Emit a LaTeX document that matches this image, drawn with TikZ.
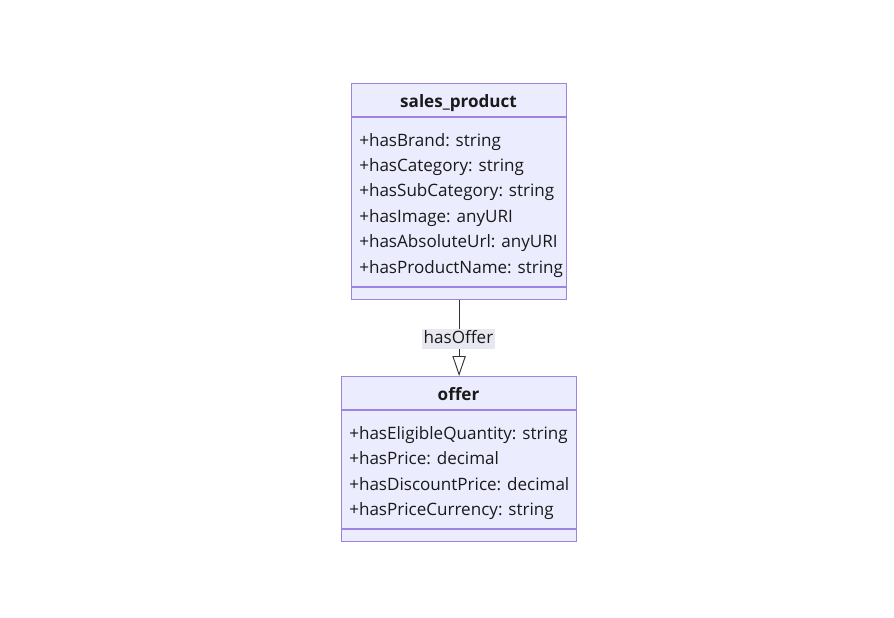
\documentclass[tikz,border=0pt]{standalone}
\usepackage{fontspec}
\setmainfont{Open Sans}
\usetikzlibrary{arrows.meta}
\definecolor{boxfill}{HTML}{ECECFF}
\definecolor{boxline}{HTML}{9F83E0}
\definecolor{edgeline}{HTML}{333333}
\definecolor{lblbg}{HTML}{E8E8F0}
\definecolor{txt}{HTML}{1A1A1A}
\tikzset{
  classbox/.style={draw=boxline, fill=boxfill, line width=0.9pt, inner sep=0pt, anchor=north west},
  sepline/.style={draw=boxline, line width=0.9pt},
  title/.style={font=\fontsize{12.8pt}{15pt}\selectfont\bfseries, text=txt, inner sep=0pt, text height=9.5pt, text depth=3pt},
  attr/.style={font=\fontsize{12.8pt}{15pt}\selectfont, text=txt, inner sep=0pt, anchor=west, text height=9.5pt, text depth=3pt},
  edgelbl/.style={fill=lblbg, font=\fontsize{12.8pt}{15pt}\selectfont, text=txt, inner sep=1.5pt, text height=9.5pt, text depth=3pt},
  rel/.style={draw=edgeline, line width=0.7pt, -{Triangle[open, width=10pt, length=15pt, fill=white]}}
}
\begin{document}
\begin{tikzpicture}[x=0.75pt,y=-0.75pt]
\useasboundingbox[fill=white] (0,0) rectangle (894,618);
% sales_product
\node[classbox, minimum width={215*0.75pt}, minimum height={216*0.75pt}] (sp) at (351,83) {};
\coordinate (sph) at (351,117);
\coordinate (sps) at (351,287);
\draw[sepline] (sph) -- (sph -| sp.east);
\draw[sepline] (sps) -- (sps -| sp.east);
\node[title] (spt) at (458.5,103) {sales\_product};
\node[attr] (sp1) at (359,142) {+hasBrand: string};
\node[attr] (sp2) at (359,167.5) {+hasCategory: string};
\node[attr] (sp3) at (359,192.5) {+hasSubCategory: string};
\node[attr] (sp4) at (359,218) {+hasImage: anyURI};
\node[attr] (sp5) at (359,243.5) {+hasAbsoluteUrl: anyURI};
\node[attr] (sp6) at (359,269) {+hasProductName: string};
% offer
\node[classbox, minimum width={235*0.75pt}, minimum height={165*0.75pt}] (of) at (341,376) {};
\coordinate (ofh) at (341,410);
\coordinate (ofs) at (341,529);
\draw[sepline] (ofh) -- (ofh -| of.east);
\draw[sepline] (ofs) -- (ofs -| of.east);
\node[title] (oft) at (458.5,396) {offer};
\node[attr] (of1) at (349,435) {+hasEligibleQuantity: string};
\node[attr] (of2) at (349,460.5) {+hasPrice: decimal};
\node[attr] (of3) at (349,486) {+hasDiscountPrice: decimal};
\node[attr] (of4) at (349,511.5) {+hasPriceCurrency: string};
% relation
\draw[rel] (sp.south) -- (of.north);
\node[edgelbl] (lbl) at (458.5,339) {hasOffer};
\end{tikzpicture}
\end{document}
